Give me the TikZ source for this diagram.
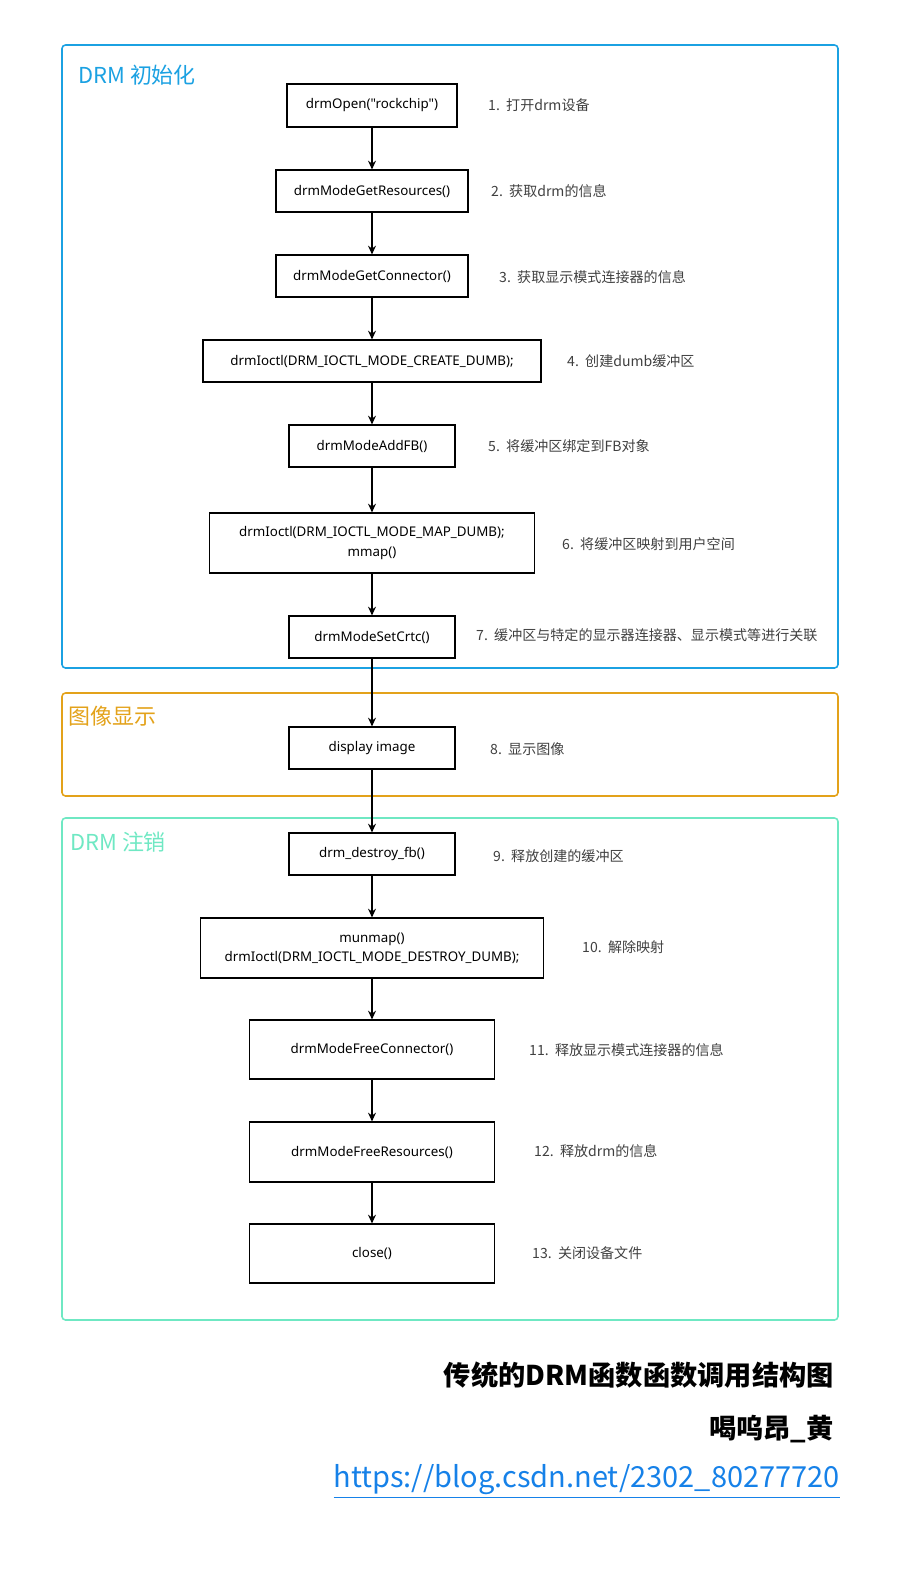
\documentclass[tikz,border=0pt]{standalone}
\usepackage{fontspec}
\setmainfont{Noto Sans CJK SC}
\newfontfamily\latinf{Noto Sans}
\usetikzlibrary{arrows.meta}
\definecolor{fblue}{HTML}{1BA1E2}
\definecolor{forange}{HTML}{E3A21A}
\definecolor{fgreen}{HTML}{6FE8C3}
\tikzset{
 px/.style={x=0.02cm,y=-0.02cm},
 fbox/.style={draw,line width=0.9pt,rounded corners=2pt},
 stepbox/.style={draw,line width=0.6pt,fill=white,font=\latinf\bfseries\fontsize{7.6}{11}\selectfont,align=center,inner sep=0pt},
 lab/.style={anchor=west,font=\fontsize{8}{11}\selectfont,text=black!75},
 ttl/.style={anchor=west,font=\fontsize{12.5}{15}\selectfont},
 arr/.style={-{Stealth[length=5pt,width=4.5pt]},line width=0.7pt}
}
\begin{document}
\begin{tikzpicture}[px]
\useasboundingbox (0,0) rectangle (901,1590);
\draw[fbox,fblue] (62,45) rectangle (838,668);
\draw[fbox,forange] (62,693) rectangle (838,796);
\draw[fbox,fgreen] (62,818) rectangle (838,1320);
\node[ttl,text=fblue] (t1) at (72,75) {DRM 初始化};
\node[ttl,text=forange] (t2) at (62,716) {图像显示};
\node[ttl,text=fgreen] (t3) at (64,842) {DRM 注销};
\newcommand{\bx}[6]{\node[stepbox,minimum width=#4*0.02cm,minimum height=#5*0.02cm] (#1) at (#2,#3) {#6};}
\bx{n1}{372}{105.5}{170}{43}{drmOpen(\symbol{34}rockchip\symbol{34})}
\bx{n2}{372}{191}{192}{42}{drmModeGetResources()}
\bx{n3}{372}{276}{192}{42}{drmModeGetConnector()}
\bx{n4}{372}{361}{338}{42}{drmIoctl(DRM\_IOCTL\_MODE\_CREATE\_DUMB);}
\bx{n5}{372}{446}{166}{42}{drmModeAddFB()}
\bx{n6}{372}{543}{325}{60}{drmIoctl(DRM\_IOCTL\_MODE\_MAP\_DUMB);\\mmap()}
\bx{n7}{372}{637}{166}{42}{drmModeSetCrtc()}
\bx{n8}{372}{748}{166}{42}{display image}
\bx{n9}{372}{854}{166}{42}{drm\_destroy\_fb()}
\bx{n10}{372}{948}{343}{60}{munmap()\\drmIoctl(DRM\_IOCTL\_MODE\_DESTROY\_DUMB);}
\bx{n11}{372}{1049.5}{245}{59}{drmModeFreeConnector()}
\bx{n12}{372}{1152}{245}{60}{drmModeFreeResources()}
\bx{n13}{372}{1253.5}{245}{59}{close()}
\foreach \a/\b in {n1/n2,n2/n3,n3/n4,n4/n5,n5/n6,n6/n7,n7/n8,n8/n9,n9/n10,n10/n11,n11/n12,n12/n13}
  \draw[arr] (\a) -- (\b);
\node[lab] (l1) at (482,105) {1.\ \ 打开drm设备};
\node[lab] (l2) at (485,191) {2.\ \ 获取drm的信息};
\node[lab] (l3) at (493,277) {3.\ \ 获取显示模式连接器的信息};
\node[lab] (l4) at (561,361) {4.\ \ 创建dumb缓冲区};
\node[lab] (l5) at (482,446) {5.\ \ 将缓冲区绑定到FB对象};
\node[lab] (l6) at (556,544) {6.\ \ 将缓冲区映射到用户空间};
\node[lab] (l7) at (470,635) {7.\ \ 缓冲区与特定的显示器连接器、显示模式等进行关联};
\node[lab] (l8) at (484,749) {8.\ \ 显示图像};
\node[lab] (l9) at (487,856) {9.\ \ 释放创建的缓冲区};
\node[lab] (l10) at (576,947) {10.\ \ 解除映射};
\node[lab] (l11) at (523,1050) {11.\ \ 释放显示模式连接器的信息};
\node[lab] (l12) at (528,1151) {12.\ \ 释放drm的信息};
\node[lab] (l13) at (526,1253) {13.\ \ 关闭设备文件};
\node[anchor=east,font=\bfseries\fontsize{15.5}{19}\selectfont] (c1) at (840,1375) {传统的DRM函数函数调用结构图};
\node[anchor=east,font=\bfseries\fontsize{15.5}{19}\selectfont] (c2) at (840,1429) {喝呜昂\_黄};
\node[anchor=east,font=\fontsize{16.5}{20}\selectfont,text=fblue!80!blue] (c3) at (846,1481) {\underline{https://blog.csdn.net/2302\_80277720}};
\end{tikzpicture}
\end{document}
